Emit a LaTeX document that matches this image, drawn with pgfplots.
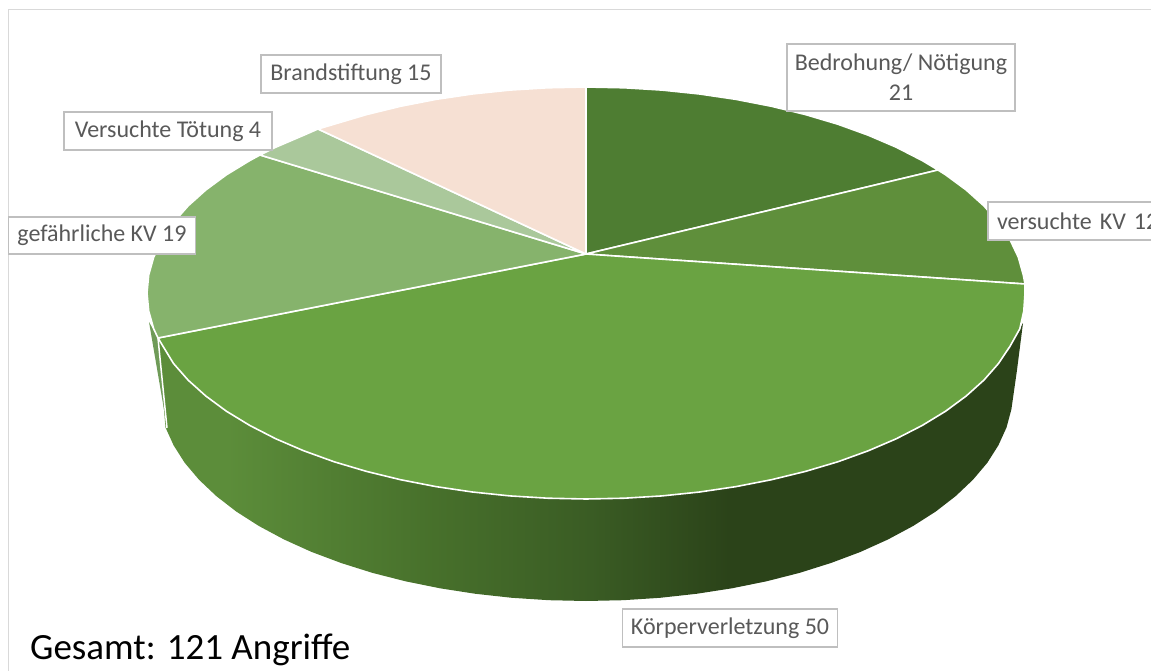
\documentclass[border=0pt]{standalone}
\usepackage{fontspec}
\setmainfont{Carlito}
\usepackage{pgfplots}
\pgfplotsset{compat=1.18}
\definecolor{bedr}{HTML}{4E7D32}
\definecolor{vkv}{HTML}{5F8F3B}
\definecolor{koerp}{HTML}{6AA342}
\definecolor{gefkv}{HTML}{86B36C}
\definecolor{vtoet}{HTML}{AAC89B}
\definecolor{brand}{HTML}{F6E0D3}
\definecolor{sliver}{HTML}{6F9B58}
\definecolor{labtxt}{HTML}{595959}
\definecolor{labbox}{HTML}{BFBFBF}
\definecolor{frame}{HTML}{D9D9D9}
\definecolor{sidea}{HTML}{5C8D3A}
\definecolor{sideb}{HTML}{47702B}
\definecolor{sidec}{HTML}{3A5C24}
\definecolor{sided}{HTML}{2B4319}
\pgfdeclarehorizontalshading{sideshade}{100bp}{
  color(0bp)=(sidea); color(29bp)=(sidea); color(41bp)=(sideb);
  color(50bp)=(sidec); color(58bp)=(sided); color(100bp)=(sided)}
\tikzset{lab/.style={draw=labbox, line width=1.4pt, fill=white, text=labtxt, inner sep=0pt, outer sep=0pt,
  font=\fontsize{24}{30}\selectfont, align=center, anchor=center}}
\pgfplotsset{slice/.style={draw=white, line width=1.6pt, fill=#1, line join=round}}
\begin{document}
\begin{tikzpicture}
\begin{axis}[
    at={(0,0)}, anchor=south west,
    scale only axis, width=1151pt, height=671pt,
    hide axis,
    xmin=0, xmax=1151, ymin=0, ymax=671,
    y dir=reverse,
]
% frame of the chart area, runs off the picture
\addplot[draw=frame, line width=1.5pt] coordinates {(8.5,671) (8.5,9.5) (1151,9.5)};

% side wall
\addplot[draw=none, shading=sideshade] coordinates {
  (158,338) (173.5,363.5) (188.1,380.1) (205.8,396) (226.4,411.2) (249.7,425.4) (275.6,438.7)
  (303.8,450.8) (334.2,461.8) (366.5,471.4) (400.5,479.7) (435.9,486.6) (472.4,492) (509.8,495.9)
  (547.7,498.2) (586,499) (624.3,498.2) (662.2,495.9) (699.6,492) (736.1,486.6) (771.5,479.7)
  (805.5,471.4) (837.8,461.8) (868.2,450.8) (896.4,438.7) (922.3,425.4) (945.6,411.2) (966.2,396)
  (983.9,380.1) (998.5,363.5) (1010,346.3) (1019.8,328.8) (1023,323)
  (1017,370) (1011.4,409.3) (1006.5,427.5) (998.4,445.3) (987.3,462.8) (973,479.7) (955.8,496) (935.8,511.5)
  (913.1,526) (887.9,539.5) (860.5,551.9) (830.9,563) (799.5,572.9) (766.5,581.3) (732,588.3)
  (696.5,593.8) (660.1,597.8) (623.2,600.2) (586,601) (548.8,600.2) (511.9,597.8) (475.5,593.8)
  (440,588.3) (405.5,581.3) (372.5,572.9) (341.1,563) (311.5,551.9) (284.1,539.5) (258.9,526)
  (236.2,511.5) (216.2,496) (199,479.7) (184.7,462.8) (173.6,445.3) (165.5,427.5)
} -- cycle;
% small side piece of gefaehrliche KV
\addplot[draw=none, fill=sliver] coordinates {(149,322) (158,338) (167,427)} -- cycle;
\addplot[draw=white, line width=1.5pt] coordinates {(158,338) (167,428)};

% top surface: Bedrohung/ Noetigung
\addplot[slice=bedr] coordinates {
  (586,254) (586,87) (624.3,87.8) (662.2,90.1) (699.6,94) (736.1,99.4) (771.5,106.3) (805.5,114.6)
  (837.8,124.2) (868.2,135.2) (896.4,147.3) (922.3,160.6) (938,170)} -- cycle;
% versuchte KV
\addplot[slice=vkv] coordinates {
  (586,254) (938,170) (945.6,174.8) (966.2,190) (983.9,205.9) (998.5,222.5) (1010,239.7)
  (1018.3,257.2) (1023.3,275) (1025,284)} -- cycle;
% Koerperverletzung
\addplot[slice=koerp] coordinates {
  (586,254) (1025,284) (1025,293) (1023.8,311) (1019.8,328.8) (1010,346.3) (998.5,363.5)
  (983.9,380.1) (966.2,396) (945.6,411.2) (922.3,425.4) (896.4,438.7) (868.2,450.8) (837.8,461.8)
  (805.5,471.4) (771.5,479.7) (736.1,486.6) (699.6,492) (662.2,495.9) (624.3,498.2) (586,499)
  (547.7,498.2) (509.8,495.9) (472.4,492) (435.9,486.6) (400.5,479.7) (366.5,471.4) (334.2,461.8)
  (303.8,450.8) (275.6,438.7) (249.7,425.4) (226.4,411.2) (205.8,396) (188.1,380.1) (173.5,363.5)
  (158,338)} -- cycle;
% gefaehrliche KV
\addplot[slice=gefkv] coordinates {
  (586,254) (158,338) (153.7,328.8) (148.7,311) (147,293) (148.7,275) (153.7,257.2) (162,239.7)
  (173.5,222.5) (188.1,205.9) (205.8,190) (226.4,174.8) (249.7,160.6) (260,155)} -- cycle;
% Versuchte Toetung
\addplot[slice=vtoet] coordinates {
  (586,254) (260,155) (275.6,147.3) (303.8,135.2) (318,129)} -- cycle;
% Brandstiftung
\addplot[slice=brand] coordinates {
  (586,254) (318,129) (334.2,124.2) (366.5,114.6) (400.5,106.3) (435.9,99.4) (472.4,94) (509.8,90.1)
  (547.7,87.8) (586,87)} -- cycle;

\node[lab, minimum width=228pt, minimum height=67pt] at (axis cs:901,77.5) {Bedrohung/ Nötigung\\21};
\node[lab, minimum width=180pt, minimum height=38pt] at (axis cs:351,74) {Brandstiftung 15};
\node[lab, minimum width=208pt, minimum height=38pt] at (axis cs:168,131) {Versuchte Tötung 4};
\node[lab, minimum width=187pt, minimum height=37pt] at (axis cs:102,235.5) {gefährliche KV 19};
\node[lab, minimum width=215.5pt, minimum height=38pt] at (axis cs:730,628) {Körperverletzung 50};
\node[lab, minimum width=200pt, minimum height=38pt, text width=182pt, align=left] at (axis cs:1088,221) {versuchte KV 12};
\node[anchor=base west, inner sep=0pt, font=\fontsize{37}{44}\selectfont, text=black] at (axis cs:30,659) {Gesamt: 121 Angriffe};
\end{axis}
\pgfresetboundingbox
\useasboundingbox (0,0) rectangle (1151pt,671pt);
\end{tikzpicture}
\end{document}
